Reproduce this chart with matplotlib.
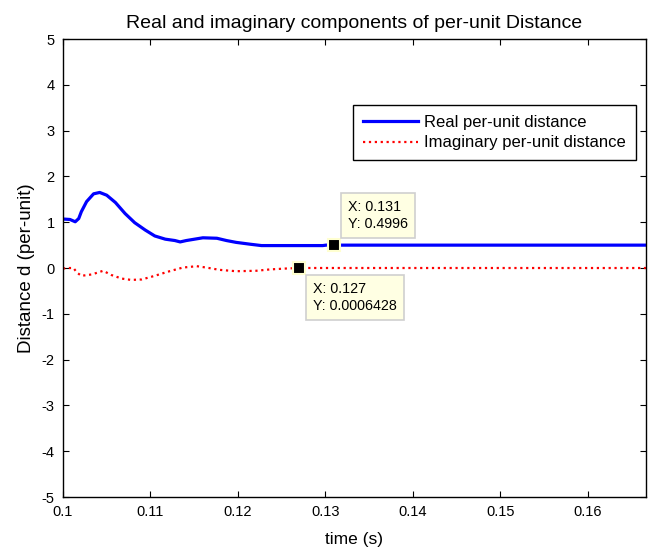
import numpy as np
import matplotlib
matplotlib.use("Agg")
import matplotlib.pyplot as plt

plt.rcParams['font.family'] = ['Liberation Sans', 'DejaVu Sans']
plt.rcParams['axes.unicode_minus'] = False

# real part of per-unit distance
t_real = [0.1, 0.1008, 0.1014, 0.1018, 0.1021, 0.1027, 0.1035, 0.1042, 0.105,
          0.106, 0.1071, 0.1082, 0.1094, 0.1105, 0.1117, 0.1128, 0.1134,
          0.1141, 0.116, 0.1176, 0.1187, 0.1198, 0.1214, 0.1227, 0.1297,
          0.1301, 0.131, 1 / 6]
d_real = [1.07, 1.06, 1.01, 1.08, 1.23, 1.45, 1.62, 1.65, 1.59,
          1.43, 1.19, 0.99, 0.83, 0.70, 0.63, 0.60, 0.57,
          0.60, 0.66, 0.65, 0.60, 0.56, 0.52, 0.49, 0.49,
          0.50, 0.4996, 0.4996]

# imaginary part
t_imag = [0.1, 0.1006, 0.1012, 0.1016, 0.1021, 0.1033, 0.1046, 0.1055, 0.1067,
          0.1078, 0.109, 0.1105, 0.112, 0.1137, 0.1153, 0.1164, 0.1179,
          0.1198, 0.1221, 0.1237, 0.1256, 0.127, 1 / 6]
d_imag = [-0.01, 0.0, 0.0, -0.10, -0.17, -0.14, -0.06, -0.15, -0.23,
          -0.26, -0.25, -0.17, -0.08, 0.01, 0.04, 0.01, -0.04,
          -0.07, -0.06, -0.03, -0.01, 0.0006428, 0.0]

tips = [(0.131, 0.4996, "X: 0.131\nY: 0.4996", (14, 14), 'bottom'),
        (0.127, 0.0006428, "X: 0.127\nY: 0.0006428", (14, -14), 'top')]

fig = plt.figure(figsize=(6.54, 5.52), dpi=100)
ax = fig.add_axes([0.0963, 0.0996, 0.8914, 0.8297])

ax.plot(t_real, d_real, color='#0000ff', lw=2.3, label='Real per-unit distance')
ax.plot(t_imag, d_imag, color='#ff0000', lw=1.6, ls=':', label='Imaginary per-unit distance')

for x, y, txt, off, va in tips:
    ax.plot(x, y, 's', color='black', ms=9, mec='#ffffd0', mew=1.5, zorder=5)
    ax.annotate(txt, xy=(x, y), xytext=off, textcoords='offset pixels',
                ha='left', va=va, fontsize=10.3, linespacing=1.3,
                bbox=dict(boxstyle='square,pad=0.5', fc='#ffffe3', ec='#cfcfcf', lw=1.2),
                zorder=6)

ax.set_xlim(0.1, 1 / 6)
ax.set_ylim(-5, 5)
ax.set_xticks([0.1, 0.11, 0.12, 0.13, 0.14, 0.15, 0.16])
ax.set_xticklabels(['0.1', '0.11', '0.12', '0.13', '0.14', '0.15', '0.16'])
ax.set_yticks(np.arange(-5, 6, 1))
ax.tick_params(direction='in', top=True, right=True, length=4, labelsize=10.5)
ax.tick_params(axis='x', pad=6)
ax.tick_params(axis='y', pad=6)
for s in ax.spines.values():
    s.set_linewidth(1.0)

ax.set_title('Real and imaginary components of per-unit Distance', fontsize=14, pad=8)
ax.set_xlabel('time (s)', fontsize=12.5, labelpad=9)
ax.set_ylabel('Distance d (per-unit)', fontsize=13.5, labelpad=5)

leg = ax.legend(loc='upper right', bbox_to_anchor=(0.983, 0.857), borderaxespad=0,
                fancybox=False, edgecolor='black', framealpha=1, fontsize=12,
                handlelength=3.3, handletextpad=0.4, labelspacing=0.35, borderpad=0.6)
leg.get_frame().set_linewidth(1.0)

fig.savefig('out.png', dpi=100)
